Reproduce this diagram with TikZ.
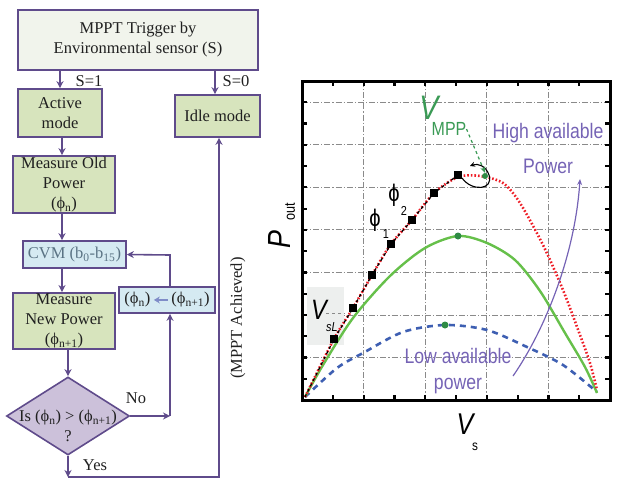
\documentclass[tikz,border=0pt]{standalone}
\usepackage{fontspec}
\setmainfont{Liberation Serif}
\newfontfamily\pf[FakeStretch=0.84]{Liberation Sans}
\usetikzlibrary{arrows.meta,shapes.geometric}
\definecolor{pbord}{HTML}{5F4B8B}
\definecolor{gfill}{HTML}{D7E4BD}
\definecolor{tfill}{HTML}{F1F4EC}
\definecolor{bfill}{HTML}{D5EAF2}
\definecolor{dfill}{HTML}{CCC1DA}
\definecolor{txt}{HTML}{202020}
\definecolor{cvmtxt}{HTML}{5A7384}
\definecolor{swaparr}{HTML}{7F8CC8}
\definecolor{pltpurple}{HTML}{7563B5}
\definecolor{curvegreen}{HTML}{66C04A}
\definecolor{dotgreen}{HTML}{2E8B45}
\definecolor{mppgreen}{HTML}{3A9A55}
\definecolor{curveblue}{HTML}{3E5FB2}
\definecolor{curvered}{HTML}{EE1C25}
\definecolor{gridgray}{HTML}{8A8A8A}
\definecolor{vslbox}{HTML}{EDEFEE}
\newcommand{\ph}{ϕ}
\newcommand{\swaparrow}{\tikz[baseline=-4pt]{\draw[swaparr, line width=1.6pt, -{Stealth[length=6pt,width=7pt]}] (0pt,0pt) -- (-14pt,0pt);}}
\begin{document}
\begin{tikzpicture}[x=1pt,y=-1pt,
  fbox/.style={draw=pbord, line width=1.6pt, align=center, inner sep=1pt,
    font=\fontsize{16.5}{20}\selectfont, text=txt},
  greenbox/.style={fbox, fill=gfill},
  bluebox/.style={fbox, fill=bfill},
  dia/.style={diamond, draw=pbord, line width=1.6pt, fill=dfill, inner sep=0pt},
  lbl/.style={font=\fontsize{16.5}{20}\selectfont, text=txt, inner sep=0pt, align=center},
  arr/.style={draw=pbord, line width=1.6pt, -{Stealth[length=7pt,width=7pt]}},
  pl/.style={font=\pf\fontsize{21}{24}\selectfont, text=pltpurple, inner sep=0pt, align=center},
  sq/.style={fill=black, minimum size=8.5pt, inner sep=0pt},
  gdot/.style={circle, fill=dotgreen, minimum size=7pt, inner sep=0pt},
  grid line/.style={draw=gridgray, line width=0.9pt, dash pattern=on 6pt off 2pt on 1.2pt off 2pt},
]
\useasboundingbox (0,0) rectangle (623,490);

% ---------------- flowchart ----------------
\node[fbox, fill=tfill, minimum width=240pt, minimum height=60pt] (trig) at (138,40)
  {MPPT Trigger by\\Environmental sensor (S)};
\node[greenbox, minimum width=84pt, minimum height=48pt] (act) at (60,113) {Active\\mode};
\node[greenbox, minimum width=85pt, minimum height=42pt] (idle) at (217.5,116) {Idle mode};
\node[greenbox, minimum width=102pt, minimum height=57pt] (old) at (64,184.5)
  {Measure Old\\Power\\(\ph\textsubscript{n})};
\node[bluebox, minimum width=103pt, minimum height=27pt, text=cvmtxt] (cvm) at (74.5,254.5)
  {CVM (b\textsubscript{0}-b\textsubscript{15})};
\node[greenbox, minimum width=102pt, minimum height=56pt] (new) at (64,321)
  {Measure\\New Power\\(\ph\textsubscript{n+1})};
\node[bluebox, minimum width=96pt, minimum height=26pt] (swap) at (167,300)
  {(\ph\textsubscript{n})\,\swaparrow\,(\ph\textsubscript{n+1})};
\node[dia, minimum width=123pt, minimum height=78pt] (dec) at (68,416) {};
\node[lbl] (dectext) at (68,426) {Is (\ph\textsubscript{n}) > (\ph\textsubscript{n+1})\\?};

\coordinate (nocorner) at (170,416);
\coordinate (upcorner) at (170,255);
\coordinate (yesend) at (68,477);
\coordinate (yescorner) at (219,477);

\draw[arr] (act.north |- trig.south) -- (act.north);
\draw[arr] ([xshift=-2.5pt]idle.north |- trig.south) -- ([xshift=-2.5pt]idle.north);
\draw[arr] ([xshift=2pt]act.south) -- ([xshift=2pt]act.south |- old.north);
\draw[arr] ([xshift=-2pt]old.south) -- ([xshift=-2pt]old.south |- cvm.north);
\draw[arr] ([xshift=-2pt]old.south |- cvm.south) -- ([xshift=-2pt]old.south |- new.north);
\draw[arr] (dec.north |- new.south) -- (dec.north);
\draw[arr] (dec.east) -- (nocorner);
\draw[arr] (nocorner) -- (nocorner |- swap.south);
\draw[arr] (upcorner |- swap.north) -- (upcorner) -- (cvm.east);
\draw[arr] (dec.south) -- (yesend);
\draw[arr] (yesend) -- (yescorner) -- (yescorner |- idle.south);

\node[lbl] (s1) at (89,81) {S=1};
\node[lbl] (s0) at (236,81) {S=0};
\node[lbl] (no) at (136,398) {No};
\node[lbl] (yes) at (95,465) {Yes};
\node[lbl, rotate=90] (ach) at (238,318) {(MPPT Achieved)};

% ---------------- plot ----------------
\foreach \i in {1,...,4} {
  \pgfmathsetmacro\gx{302+61.6*\i}
  \draw[grid line] (\gx,81) -- (\gx,400);
}
\foreach \i in {0,...,6} {
  \pgfmathsetmacro\gy{102.3+42.53*\i}
  \draw[grid line] (302,\gy) -- (610,\gy);
}
\foreach \i in {1,...,9} {
  \pgfmathsetmacro\tx{302+30.8*\i}
  \draw[line width=2.2pt] (\tx,81) -- (\tx,86);
  \draw[line width=2.2pt] (\tx,400) -- (\tx,395);
}
\foreach \i in {1,...,14} {
  \pgfmathsetmacro\ty{81+21.27*\i}
  \draw[line width=2.2pt] (302,\ty) -- (307,\ty);
  \draw[line width=2.2pt] (610,\ty) -- (605,\ty);
}

% V_sL box
\fill[vslbox] (307,287) rectangle (344,345);
\draw[gridgray, dashed, line width=0.8pt] (326,313) -- (345,313);

% low (blue dashed)
\draw[curveblue, line width=2.6pt, dash pattern=on 6pt off 5pt]
  plot[smooth] coordinates {(305,397) (337,368) (363,353) (403,332) (445,325) (487,330) (527,347) (563,365) (597,392)};
% medium (green)
\draw[curvegreen, line width=2.4pt]
  plot[smooth] coordinates {(305,397) (323,365) (353,318) (390,276) (425,248) (458,236) (487,243) (515,260) (540,291) (565,333) (585,367) (597,393)};
% high (red dotted)
\draw[curvered, line width=2.6pt, dash pattern=on 1.6pt off 2pt]
  plot[smooth] coordinates {(305,397) (334,339) (353,308) (372,275) (391,244) (412,220) (434,193) (458,177) (480,176) (503,183) (520,203) (543,245) (563,290) (580,335) (590,363) (597,390)};
% tracking path (black)
\draw[black, line width=1.3pt, dashed]
  plot coordinates {(305,397) (334,339) (353,308) (372,275) (391,244) (412,220) (434,193) (458,175)};
\foreach \n/\p in {q1/{(334,339)}, q2/{(353,308)}, q3/{(372,275)}, q4/{(391,244)}, q5/{(412,220)}, q6/{(434,193)}, q7/{(458,175)}}
  \node[sq] (\n) at \p {};

% maximum points
\node[gdot] (gmid) at (458,236) {};
\node[gdot] (glow) at (445,325) {};
\node[gdot, minimum size=6pt] (gmpp) at (485,176) {};

% small curved arrow near MPP
\draw[black, line width=1.1pt, -{Stealth[length=5pt,width=5pt]}]
  (462,178) .. controls (472,192) and (494,190) .. (489,175) .. controls (486,166) and (478,163) .. (470,166);

% V_MPP arrow
\node[font=\pf\itshape\fontsize{34}{34}\selectfont, text=mppgreen, inner sep=0pt] (vmpp) at (429,108) {V};
\node[font=\pf\fontsize{19}{19}\selectfont, text=mppgreen, inner sep=0pt] (mpp) at (449,129) {MPP};
\draw[mppgreen, line width=1.2pt, dashed, -{Stealth[length=6pt,width=5pt]}] (mpp.east) -- (gmpp.north);

% purple arrow
\coordinate (parrs) at (513,376);
\coordinate (parre) at (580,179);
\draw[pltpurple, line width=1.2pt, -{Stealth[length=6pt,width=5pt]}]
  (parrs) .. controls (545,330) and (575,255) .. (parre);

% labels
\node[pl] (high) at (548,133) {High available};
\node[pl] (highp) at (548,166) {Power};
\node[pl] (low) at (458,356) {Low available};
\node[pl] (lowp) at (458,386) {power};

\node[font=\pf\fontsize{24}{24}\selectfont, inner sep=0pt] (phi2) at (394,195) {ϕ};
\node[font=\pf\fontsize{13}{13}\selectfont, inner sep=0pt] (phi2s) at (404,211) {2};
\node[font=\pf\fontsize{24}{24}\selectfont, inner sep=0pt] (phi1) at (375,220) {ϕ};
\node[font=\pf\fontsize{13}{13}\selectfont, inner sep=0pt] (phi1s) at (386,234) {1};

\node[font=\pf\itshape\fontsize{28}{28}\selectfont, inner sep=0pt] (vsl) at (319,310) {V};
\node[font=\pf\itshape\fontsize{13}{13}\selectfont, inner sep=0pt] (vsls) at (332,327) {sL};

\node[font=\pf\itshape\fontsize{32}{32}\selectfont, inner sep=0pt, rotate=90] (pout) at (279,240) {P};
\node[font=\pf\fontsize{15}{15}\selectfont, inner sep=0pt, rotate=90] (pouts) at (290,212) {out};

\node[font=\pf\itshape\fontsize{30}{30}\selectfont, inner sep=0pt] (vs) at (465,424) {V};
\node[font=\pf\fontsize{14}{14}\selectfont, inner sep=0pt] (vss) at (475,447) {s};

% frame
\draw[black, line width=3pt] (302,81) rectangle (610,400);
\end{tikzpicture}
\end{document}
